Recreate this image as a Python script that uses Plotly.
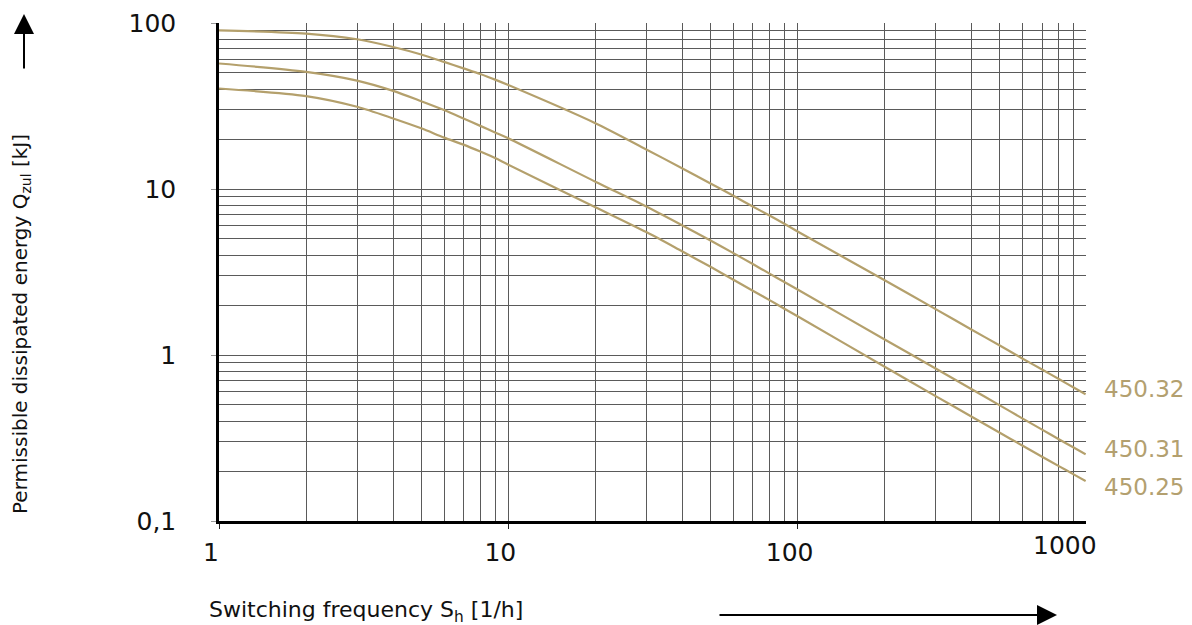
import plotly.graph_objects as go
import math

# Switching frequency S_h [1/h]
freq = [1, 2, 3, 4, 5, 6, 7, 8, 9, 10,
        20, 30, 40, 50, 60, 70, 80, 90,
        100, 200, 300, 400, 500, 600, 700, 800, 900, 990]

# Permissible dissipated energy Q_zul [kJ]
q_450_32 = [90.4, 86.4, 79.8, 71.7, 64.6, 58.3, 53.3, 49.3, 45.6, 42.3,
            24.9, 17.3, 13.3, 10.8, 9.1, 7.84, 6.92, 6.17,
            5.55, 2.82, 1.89, 1.42, 1.14, 0.95, 0.817, 0.716, 0.637, 0.58]
q_450_31 = [57.0, 50.8, 45.0, 39.0, 33.8, 29.9, 26.6, 24.0, 21.9, 20.2,
            11.07, 7.84, 6.03, 4.9, 4.11, 3.53, 3.09, 2.75,
            2.48, 1.24, 0.83, 0.622, 0.497, 0.414, 0.355, 0.311, 0.277, 0.252]
q_450_25 = [40.3, 36.3, 31.3, 26.6, 23.2, 20.4, 18.5, 16.8, 15.35, 14.0,
            7.77, 5.5, 4.2, 3.4, 2.84, 2.44, 2.14, 1.9,
            1.71, 0.85, 0.565, 0.425, 0.34, 0.284, 0.244, 0.214, 0.191, 0.174]

series_names = ["450.32", "450.31", "450.25"]
series_values = [q_450_32, q_450_31, q_450_25]
label_levels = [0.62, 0.271, 0.16]  # level (kJ) at which each curve label sits

x_ticks = [1, 10, 100, 1000]
x_ticktext = ["1", "10", "100", "1000"]
y_ticks = [0.1, 1, 10, 100]
y_ticktext = ["0,1", "1", "10", "100"]

minor_vals = [m * 10 ** e for e in range(-1, 4) for m in range(2, 10)]

CURVE = "#B4A06C"
GRID = "#5a5a5a"
FONT = "DejaVu Sans"

fig = go.Figure()
for name, vals in zip(series_names, series_values):
    fig.add_trace(go.Scatter(x=freq, y=vals, mode="lines", name=name,
                             line=dict(color=CURVE, width=2.2, shape="spline", smoothing=0.8),
                             showlegend=False, hoverinfo="x+y+name"))

# page body has an 8px default margin, so the figure is offset by 8px
OFF = 8
L, T = 219 - OFF, 23 - OFF
W, H = 1192, 625
pw, ph = 867, 498
R = W - L - pw
B = H - T - ph
xmax_log = math.log10(993)


def px_x(page_x):
    return (page_x - 219) / pw


def px_y(page_y):
    return (521 - page_y) / ph


fig.update_layout(
    width=W, height=H,
    margin=dict(l=L, r=R, t=T, b=B, autoexpand=False),
    paper_bgcolor="white", plot_bgcolor="white",
    font=dict(family=FONT, color="#111"),
    xaxis=dict(type="log", range=[0, xmax_log], automargin=False,
               tickvals=x_ticks[:3], ticktext=x_ticktext[:3],
               tickfont=dict(size=25, color="#111"),
               ticks="outside", ticklen=5, tickcolor="#222", tickwidth=1,
               showgrid=True, gridcolor=GRID, gridwidth=1,
               minor=dict(tickvals=minor_vals, showgrid=True, gridcolor=GRID, gridwidth=1, ticks=""),
               showline=True, linecolor="black", linewidth=2.5,
               zeroline=False, ticklabelstandoff=2, ticklabelshift=-8),
    yaxis=dict(type="log", range=[-1, 2], automargin=False,
               tickvals=y_ticks, ticktext=y_ticktext,
               tickfont=dict(size=25, color="#111"),
               ticks="outside", ticklen=5, tickcolor="#999", tickwidth=1,
               showgrid=True, gridcolor=GRID, gridwidth=1,
               minor=dict(tickvals=minor_vals, showgrid=True, gridcolor=GRID, gridwidth=1, ticks=""),
               showline=True, linecolor="black", linewidth=2.5,
               zeroline=False, ticklabelstandoff=30),
)

anns = []
# 1000 tick label (its tick lies just past the plotted range edge)
anns.append(dict(x=(math.log10(x_ticks[3]) / xmax_log), xref="paper", y=0, yref="paper",
                 text=x_ticktext[3], showarrow=False, xanchor="center", yanchor="top",
                 xshift=-22, yshift=-8, font=dict(size=25, color="#111", family=FONT)))
# curve labels
for name, lvl in zip(series_names, label_levels):
    anns.append(dict(x=1.0, xref="paper", y=math.log10(lvl), yref="y",
                     text=name, showarrow=False, xanchor="left", yanchor="middle",
                     xshift=16, font=dict(size=23, color="#B3A06F", family=FONT)))
# axis titles
anns.append(dict(x=px_x(207), xref="paper", y=px_y(611), yref="paper",
                 text="Switching frequency S<sub>h</sub> [1/h]", showarrow=False,
                 xanchor="left", yanchor="middle", font=dict(size=22, color="#111", family=FONT)))
anns.append(dict(x=px_x(21), xref="paper", y=px_y(324), yref="paper",
                 text="Permissible dissipated energy Q<sub>zul</sub> [kJ]", showarrow=False,
                 textangle=-90, xanchor="center", yanchor="middle",
                 font=dict(size=20, color="#111", family=FONT)))
# arrows
anns.append(dict(x=px_x(24), xref="paper", y=px_y(14), yref="paper",
                 ax=0, ay=56, text="", showarrow=True, arrowhead=2, arrowsize=2,
                 arrowwidth=2, arrowcolor="black"))
anns.append(dict(x=px_x(1057), xref="paper", y=px_y(615), yref="paper",
                 ax=-339, ay=0, text="", showarrow=True, arrowhead=2, arrowsize=2,
                 arrowwidth=2, arrowcolor="black"))
fig.update_layout(annotations=anns)

fig.write_html("out.html")
